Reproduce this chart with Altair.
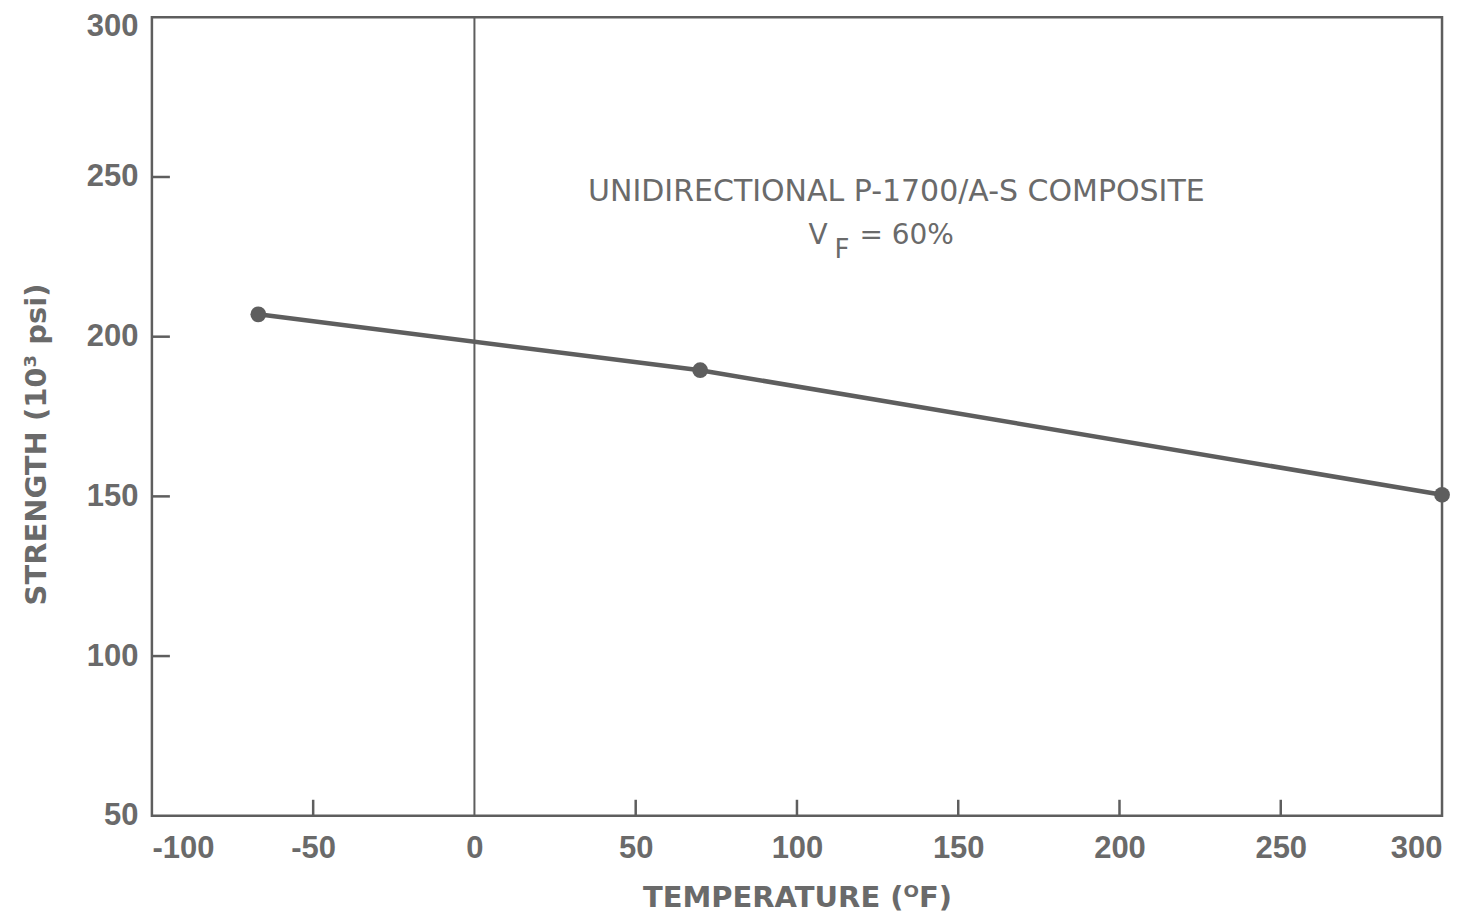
import altair as alt
import pandas as pd

# data
temps = [-67, 70, 300]
strength = [207, 189.5, 150.5]

x_label_values = [-100, -50, 0, 50, 100, 150, 200, 250, 300]
y_label_values = [50, 100, 150, 200, 250, 300]
x_inner_ticks = [-50, 50, 100, 150, 200, 250]
y_inner_ticks = [100, 150, 200, 250]
zero_line = [0]

note_line1 = "UNIDIRECTIONAL P-1700/A-S COMPOSITE"
note_v = "V"
note_sub = "F"
note_rest = "= 60%"

W, H = 1291, 799
TXT = "#6a6a6a"
LN = "#5e5e5e"

df = pd.DataFrame({"t": temps, "s": strength})
xs = alt.Scale(domain=[-100, 300], nice=False, zero=False)
ys = alt.Scale(domain=[50, 300], nice=False, zero=False)

x_axis = alt.Axis(values=x_label_values, grid=False, ticks=False, domain=False,
                  labelFont="Liberation Sans", labelFontWeight="bold", labelFontSize=31,
                  labelColor=TXT, labelPadding=18,
                  labelExpr="replace(datum.label, '\u2212', '-')",
                  title="TEMPERATURE (\u1d3cF)", titleFont="DejaVu Sans",
                  titleFontWeight="bold", titleFontSize=29, titleColor=TXT,
                  titlePadding=20)
y_axis = alt.Axis(values=y_label_values, grid=False, ticks=False, domain=False,
                  labelFont="Liberation Sans", labelFontWeight="bold", labelFontSize=31,
                  labelColor=TXT, labelPadding=14,
                  labelOffset={"condition": {"test": "datum.value == 300", "value": 9}, "value": 0},
                  title="STRENGTH (10\u00b3 psi)", titleFont="DejaVu Sans",
                  titleFontWeight="bold", titleFontSize=29, titleColor=TXT,
                  titleX=-115, titleY=427, titleAngle=-90,
                  titleAlign="center", titleBaseline="middle")

base = alt.Chart(df)
line = base.mark_line(color=LN, strokeWidth=4.5).encode(
    x=alt.X("t:Q", scale=xs, axis=x_axis),
    y=alt.Y("s:Q", scale=ys, axis=y_axis),
)
pts = base.mark_point(filled=True, opacity=1, color=LN, size=250).encode(
    x=alt.X("t:Q", scale=xs), y=alt.Y("s:Q", scale=ys)
)

zl = alt.Chart(pd.DataFrame({"z": zero_line})).mark_rule(color=LN, strokeWidth=2).encode(
    x=alt.X("z:Q", scale=xs), y=alt.value(0), y2=alt.value(H)
)
xt = alt.Chart(pd.DataFrame({"v": x_inner_ticks})).mark_rule(color=LN, strokeWidth=2.5).encode(
    x=alt.X("v:Q", scale=xs), y=alt.value(H), y2=alt.value(H - 16)
)
yt = alt.Chart(pd.DataFrame({"v": y_inner_ticks})).mark_rule(color=LN, strokeWidth=2.5).encode(
    y=alt.Y("v:Q", scale=ys), x=alt.value(0), x2=alt.value(18)
)

t1 = alt.Chart(pd.DataFrame({"l": [note_line1]})).mark_text(
    font="DejaVu Sans", fontSize=30, color=TXT, align="center", baseline="middle"
).encode(text="l:N", x=alt.value(745), y=alt.value(175))
t2 = alt.Chart(pd.DataFrame({"l": [note_v]})).mark_text(
    font="DejaVu Sans", fontSize=28, color=TXT, align="left", baseline="middle"
).encode(text="l:N", x=alt.value(657), y=alt.value(219))
t3 = alt.Chart(pd.DataFrame({"l": [note_sub]})).mark_text(
    font="DejaVu Sans", fontSize=26, color=TXT, align="left", baseline="middle"
).encode(text="l:N", x=alt.value(683), y=alt.value(233))
t4 = alt.Chart(pd.DataFrame({"l": [note_rest]})).mark_text(
    font="DejaVu Sans", fontSize=28, color=TXT, align="left", baseline="middle"
).encode(text="l:N", x=alt.value(708), y=alt.value(219))

chart = alt.layer(zl, xt, yt, line, pts, t1, t2, t3, t4).properties(
    width=W, height=H, autosize=alt.AutoSizeParams(type="none"),
    padding={"left": 144, "top": 9, "right": 30, "bottom": 98},
    background="white",
).configure_view(stroke=LN, strokeWidth=2.5)

chart.save("out.html", embed_options={"renderer": "svg", "actions": False})
